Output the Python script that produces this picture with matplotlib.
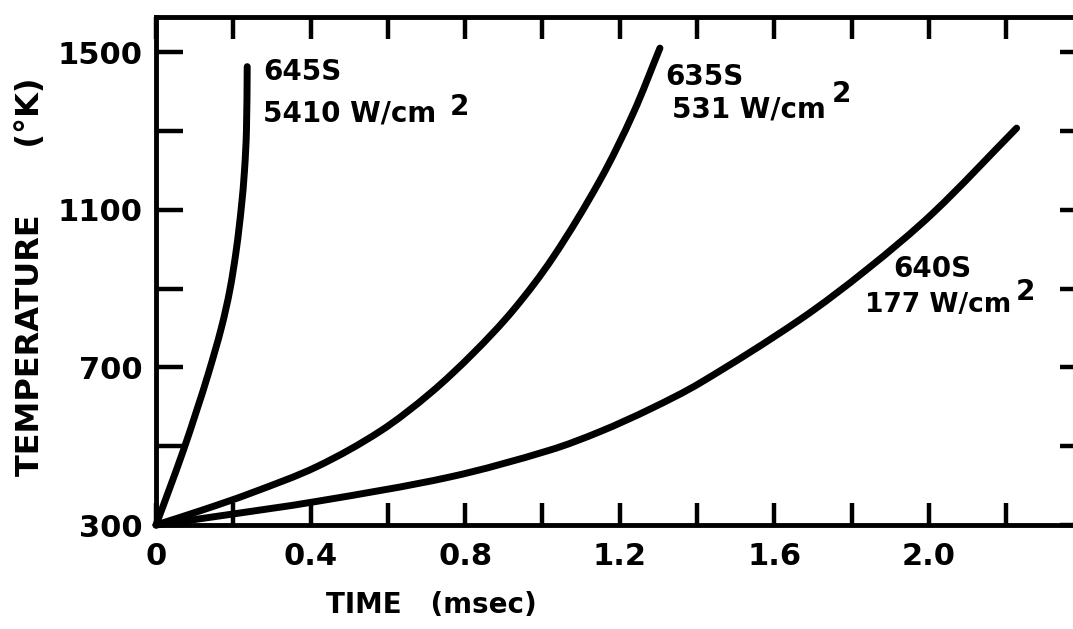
import numpy as np
import matplotlib.pyplot as plt
from matplotlib.path import Path
from matplotlib.patches import PathPatch

# Temperature rise curves
t_645 = [0.0, 0.036, 0.071, 0.105, 0.136, 0.169, 0.191, 0.208, 0.221, 0.229, 0.234, 0.236]
T_645 = [300, 395, 490, 590, 686, 800, 896, 1000, 1108, 1200, 1300, 1463]

t_635 = [0.0, 0.120, 0.243, 0.416, 0.580, 0.709, 0.821, 0.925, 1.028, 1.149, 1.235, 1.304]
T_635 = [300, 338, 380, 448, 538, 634, 736, 846, 980, 1175, 1345, 1510]

t_640 = [0.0, 0.157, 0.416, 0.761, 1.019, 1.149, 1.278, 1.407, 1.666, 1.839, 2.011, 2.227]
T_640 = [300, 322, 360, 422, 490, 537, 594, 660, 821, 948, 1092, 1307]

x_ticks = [0.0, 0.2, 0.4, 0.6, 0.8, 1.0, 1.2, 1.4, 1.6, 1.8, 2.0, 2.2]
x_tick_labels = ["0", "", "0.4", "", "0.8", "", "1.2", "", "1.6", "", "2.0", ""]
y_ticks = [300, 500, 700, 900, 1100, 1300, 1500]
y_tick_labels = ["300", "", "700", "", "1100", "", "1500"]


def smooth_curve(x, y, sx=386.5, sy=0.394):
    # chord-length Hermite spline through the read points, as cubic Beziers
    p = np.column_stack([x, y]).astype(float)
    d = np.hypot(np.diff(p[:, 0]) * sx, np.diff(p[:, 1]) * sy)
    s = np.concatenate([[0.0], np.cumsum(d)])
    n = len(p)
    m = np.zeros_like(p)
    m[0] = (p[1] - p[0]) / (s[1] - s[0])
    m[-1] = (p[-1] - p[-2]) / (s[-1] - s[-2])
    for i in range(1, n - 1):
        m[i] = (p[i + 1] - p[i - 1]) / (s[i + 1] - s[i - 1])
    verts = [p[0]]
    codes = [Path.MOVETO]
    for i in range(n - 1):
        h = s[i + 1] - s[i]
        verts += [p[i] + m[i] * h / 3.0, p[i + 1] - m[i + 1] * h / 3.0, p[i + 1]]
        codes += [Path.CURVE4] * 3
    return Path(verts, codes)


plt.rcParams["font.family"] = "DejaVu Sans"

fig = plt.figure(figsize=(10.73, 6.29), dpi=100)
ax = fig.add_axes([0.1454, 0.1653, 0.8676, 0.8077])

for t, T in [(t_645, T_645), (t_635, T_635), (t_640, T_640)]:
    patch = PathPatch(smooth_curve(t, T), fill=False, edgecolor="black", lw=5,
                      capstyle="round", joinstyle="round", clip_on=False)
    ax.add_patch(patch)

ax.set_xlim(0, 2.409)
ax.set_ylim(300, 1589)

ax.set_xticks(x_ticks)
ax.set_xticklabels(x_tick_labels)
ax.set_yticks(y_ticks)
ax.set_yticklabels(y_tick_labels)

ax.tick_params(axis="both", direction="in", top=True, right=True, width=3.2,
               labelsize=22, colors="black")
ax.tick_params(axis="x", length=16, pad=12)
ax.tick_params(axis="y", length=19.5, pad=10)
for lbl in ax.get_xticklabels() + ax.get_yticklabels():
    lbl.set_fontweight("bold")

ax.spines["right"].set_visible(False)
for s in ["left", "top", "bottom"]:
    ax.spines[s].set_linewidth(3.5)

# axis labels
ax.set_xlabel("TIME   (msec)", fontsize=20, fontweight="bold")
ax.xaxis.label.set_va("center")
ax.xaxis.set_label_coords(0.2955, -0.157)
ax.set_ylabel("TEMPERATURE      (\u00b0K)", fontsize=23, fontweight="bold")
ax.yaxis.label.set_va("center")
ax.yaxis.set_label_coords(-0.135, 0.488)

# curve labels
fs = 20
ax.text(0.277, 1429, "645S", fontsize=fs, fontweight="bold", va="baseline")
ax.text(0.277, 1323, "5410 W/cm", fontsize=fs, fontweight="bold", va="baseline")
ax.text(0.761, 1341, "2", fontsize=fs, fontweight="bold", va="baseline")

ax.text(1.317, 1417, "635S", fontsize=fs, fontweight="bold", va="baseline")
ax.text(1.335, 1333, "531 W/cm", fontsize=fs, fontweight="bold", va="baseline")
ax.text(1.749, 1374, "2", fontsize=fs, fontweight="bold", va="baseline")

ax.text(1.907, 929, "640S", fontsize=fs, fontweight="bold", va="baseline")
ax.text(1.834, 841, "177 W/cm", fontsize=19, fontweight="bold", va="baseline")
ax.text(2.226, 871, "2", fontsize=fs, fontweight="bold", va="baseline")

fig.savefig("out.png", dpi=100)
